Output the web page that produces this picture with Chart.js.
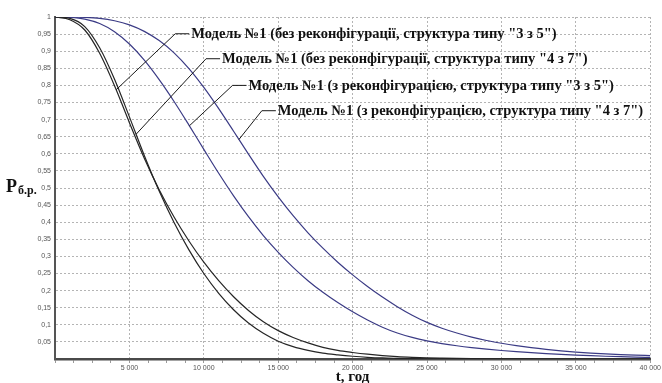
<!DOCTYPE html>
<html>
<head>
<meta charset="utf-8">
<script src="https://cdn.jsdelivr.net/npm/chart.js@4.4.1/dist/chart.umd.min.js"></script>
<style>
  html, body { margin: 0; padding: 0; background: #fff; }
  #wrap { width: 662px; height: 383px; }
</style>
</head>
<body>
<div id="wrap"><canvas id="graficaNadiinist" width="662" height="383"></canvas></div>
<script>
// час, год
const tGod = [0, 1000, 2000, 3000, 4000, 5000, 6000, 7000, 8000, 9000,
  10000, 11000, 12000, 13000, 14000, 15000, 16000, 17000, 18000, 19000,
  20000, 21000, 22000, 23000, 24000, 25000, 26000, 27000, 28000, 29000,
  30000, 31000, 32000, 33000, 34000, 35000, 36000, 37000, 38000, 39000, 40000];

// без реконфігурації, "3 з 5"
const bezRek35 = [1, 0.992, 0.962, 0.894, 0.799, 0.691, 0.587, 0.495, 0.415, 0.345,
  0.283, 0.229, 0.182, 0.142, 0.109, 0.083, 0.063, 0.047, 0.034, 0.025,
  0.019, 0.014, 0.01, 0.007, 0.005, 0.0035, 0.0025, 0.0017, 0.0011, 0.0007,
  0.0004, 0.0002, 0.0001, 0, 0, 0, 0, 0, 0, 0, 0];
// без реконфігурації, "4 з 7"
const bezRek47 = [1, 0.996, 0.972, 0.91, 0.818, 0.708, 0.595, 0.491, 0.399, 0.319,
  0.25, 0.192, 0.144, 0.105, 0.075, 0.052, 0.036, 0.025, 0.017, 0.012,
  0.008, 0.005, 0.003, 0.002, 0.0012, 0.0007, 0.0004, 0.0002, 0.0001, 0,
  0, 0, 0, 0, 0, 0, 0, 0, 0, 0, 0];
// з реконфігурацією, "3 з 5"
const zRek35 = [1, 0.999, 0.994, 0.981, 0.957, 0.921, 0.874, 0.817, 0.753, 0.684,
  0.613, 0.543, 0.477, 0.416, 0.361, 0.312, 0.268, 0.229, 0.195, 0.165,
  0.138, 0.114, 0.093, 0.076, 0.063, 0.053, 0.0452, 0.0388, 0.0334, 0.0288,
  0.0248, 0.0214, 0.0184, 0.0158, 0.0135, 0.0115, 0.0097, 0.0081, 0.0067, 0.0055, 0.0045];
// з реконфігурацією, "4 з 7"
const zRek47 = [1, 1, 0.999, 0.996, 0.989, 0.977, 0.958, 0.931, 0.895, 0.849,
  0.794, 0.732, 0.666, 0.599, 0.534, 0.474, 0.419, 0.369, 0.324, 0.283,
  0.246, 0.212, 0.181, 0.153, 0.128, 0.107, 0.09, 0.076, 0.064, 0.054,
  0.046, 0.039, 0.033, 0.028, 0.0238, 0.0203, 0.0174, 0.015, 0.013, 0.0114, 0.0101];

// підписи та виноски
const labelTexts = [
  'Модель №1 (без реконфігурації, структура типу "3 з 5")',
  'Модель №1 (без реконфігурації, структура типу "4 з 7")',
  'Модель №1 (з реконфігурацією, структура типу "3 з 5")',
  'Модель №1 (з реконфігурацією, структура типу "4 з 7")'
];
const labelT = [8080, 10150, 11930, 13900];
const labelV = [0.951, 0.878, 0.8, 0.726];
const leaderEndT = [4110, 5450, 9030, 12360];

const seriesList = [bezRek35, bezRek47, zRek35, zRek47];
const seriesColors = ['#262626', '#262626', '#3b3b85', '#3b3b85'];

function valueAt(values, t) {
  for (let i = 0; i < tGod.length - 1; i++) {
    if (t >= tGod[i] && t <= tGod[i + 1]) {
      const k = (t - tGod[i]) / (tGod[i + 1] - tGod[i]);
      return values[i] + k * (values[i + 1] - values[i]);
    }
  }
  return values[values.length - 1];
}

const pidpysy = {
  id: 'pidpysy',
  afterDatasetsDraw(chart) {
    const {ctx, scales: {x, y}} = chart;
    ctx.save();
    ctx.strokeStyle = '#1a1a1a';
    ctx.lineWidth = 1;
    ctx.fillStyle = '#111';
    ctx.font = 'bold 14.5px "Liberation Serif", "Times New Roman", serif';
    ctx.textBaseline = 'middle';
    labelTexts.forEach((txt, i) => {
      const ex = x.getPixelForValue(leaderEndT[i]);
      const ey = y.getPixelForValue(valueAt(seriesList[i], leaderEndT[i]));
      const ax = x.getPixelForValue(labelT[i]);
      const ay = y.getPixelForValue(labelV[i]);
      ctx.beginPath();
      ctx.moveTo(ex, ey);
      ctx.lineTo(ax, ay);
      ctx.lineTo(ax + 14, ay);
      ctx.stroke();
      ctx.fillText(txt, ax + 16, ay + 0.5);
    });

    // назви осей
    const area = chart.chartArea;
    ctx.textBaseline = 'alphabetic';
    ctx.textAlign = 'left';
    ctx.font = 'bold 18px "Liberation Serif", serif';
    ctx.fillText('P', 6, 192);
    ctx.font = 'bold 12px "Liberation Serif", serif';
    ctx.fillText('б.р.', 18, 194);
    ctx.textAlign = 'center';
    ctx.font = 'bold 15px "Liberation Serif", serif';
    ctx.fillText('t, год', (area.left + area.right) / 2, 381);
    ctx.restore();
  }
};

const ctxNadiinist = document.getElementById('graficaNadiinist').getContext('2d');
new Chart(ctxNadiinist, {
  type: 'line',
  data: {
    datasets: seriesList.map((values, i) => ({
      label: labelTexts[i],
      data: values.map((v, j) => ({x: tGod[j], y: v})),
      borderColor: seriesColors[i],
      borderWidth: 1.2,
      pointRadius: 0,
      fill: false,
      cubicInterpolationMode: 'monotone'
    }))
  },
  options: {
    responsive: false,
    animation: false,
    layout: { padding: { top: 17, right: 9, left: 0, bottom: 0 } },
    plugins: {
      legend: { display: false },
      tooltip: { enabled: false }
    },
    scales: {
      x: {
        type: 'linear',
        min: 0,
        max: 40000,
        afterFit: (scale) => { scale.height = 24; },
        ticks: {
          stepSize: 1250,
          autoSkip: false,
          maxRotation: 0,
          padding: 1,
          color: '#555',
          font: { family: 'Liberation Sans', size: 7 },
          callback: (v) => (v > 0 && v % 5000 === 0) ? String(v / 1000) + ' 000' : ''
        },
        grid: {
          color: (c) => (c.tick && c.tick.value % 5000 === 0) ? '#b4b4b4' : 'rgba(0,0,0,0)',
          lineWidth: 1,
          tickLength: 4,
          tickColor: '#9a9a9a'
        },
        border: { display: true, color: '#4a4a4a', width: 2.5, dash: [2, 2] }
      },
      y: {
        min: 0,
        max: 1,
        afterFit: (scale) => { scale.width = 55; },
        ticks: {
          stepSize: 0.05,
          padding: 4,
          color: '#555',
          font: { family: 'Liberation Sans', size: 7 },
          callback: (v) => v === 0 ? '' : String(Math.round(v * 100) / 100).replace('.', ',')
        },
        grid: {
          color: '#b4b4b4',
          lineWidth: 1,
          drawTicks: false
        },
        border: { display: true, color: '#555', width: 2, dash: [2, 2] }
      }
    }
  },
  plugins: [pidpysy]
});
</script>
</body>
</html>
